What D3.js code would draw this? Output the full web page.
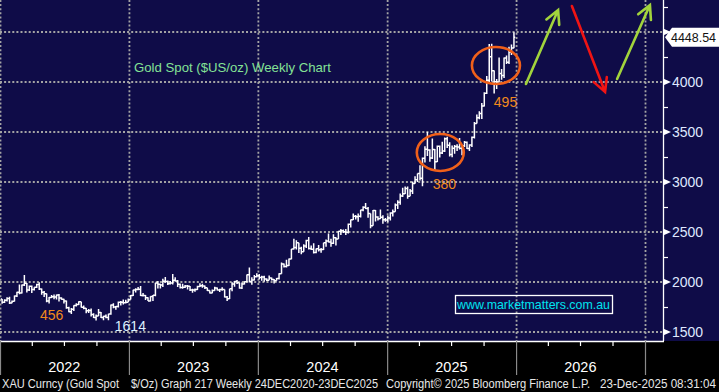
<!DOCTYPE html>
<html><head><meta charset="utf-8">
<script src="https://cdn.jsdelivr.net/npm/d3@7"></script>
<style>
html,body{margin:0;padding:0;background:#000;overflow:hidden;}
svg{display:block;}
</style></head>
<body><svg id="c" width="719" height="392"></svg>
<script>
// ---------- DATA ----------
const firstWeekEnd = "2022-01-07";   // weekly bars, Friday week-ends
const firstOpen = 1829;
const closes = [
  // 2022
  1797,1817,1835,1791,1808,1859,1898,1889,1970,1988,1921,1958,1925,1947,1975,1931,1897,1883,1811,1846,1853,1851,1871,1840,1827,1811,
  1742,1703,1727,1766,1775,1802,1747,1737,1712,1716,1675,1644,1661,1695,1644,1657,1645,1681,1771,1751,1755,1797,1797,1793,1798,1824,
  // 2023
  1865,1920,1926,1928,1865,1865,1842,1811,1856,1868,1989,1978,1969,2008,2004,1983,1990,2017,2011,1977,1946,1948,1961,1958,1921,1919,
  1925,1955,1962,1959,1943,1914,1889,1915,1940,1919,1924,1925,1849,1833,1932,1981,2006,1993,1940,1981,2002,2072,2004,2019,2053,2063,
  // 2024
  2045,2049,2029,2018,2039,2024,2013,2035,2083,2179,2155,2165,2230,2329,2344,2392,2338,2302,2360,2415,2334,2327,2294,2333,2322,2326,
  2392,2411,2400,2387,2443,2431,2507,2512,2503,2497,2577,2622,2658,2653,2657,2721,2747,2736,2685,2563,2716,2650,2633,2648,2622,2621,
  // 2025
  2640,2690,2703,2771,2798,2861,2883,2936,2858,2910,2984,3023,3084,3037,3237,3327,3319,3240,3325,3202,3357,3290,3310,3432,3368,3274,
  3337,3355,3350,3337,3363,3398,3336,3371,3448,3586,3643,3685,3760,3887,4018,4252,4112,4002,4001,4085,4065,4239,4198,4300,4339,4448.54
];
const highs = [
  // 2022
  1831,1828,1848,1853,1815,1865,1902,1974,1974,2070,1990,1966,1966,1948,1982,1998,1936,1910,1885,1849,1870,1874,1876,1879,1847,1832,
  1814,1752,1739,1767,1788,1807,1802,1765,1740,1729,1735,1688,1675,1730,1700,1662,1675,1682,1774,1787,1760,1804,1810,1824,1823,1834,
  // 2023
  1870,1923,1937,1949,1960,1890,1870,1848,1858,1870,1993,2010,1982,2032,2049,2015,2009,2081,2048,2019,1985,1983,1971,1971,1959,1933,
  1935,1963,1987,1982,1965,1935,1916,1925,1953,1945,1932,1947,1925,1860,1933,1997,2009,2020,1993,1994,2008,2075,2146,2047,2070,2088,
  // 2024
  2079,2062,2062,2037,2065,2044,2030,2041,2088,2195,2186,2223,2236,2330,2432,2417,2392,2353,2378,2422,2450,2364,2388,2336,2369,2340,
  2393,2424,2484,2432,2477,2448,2509,2531,2525,2529,2586,2626,2686,2670,2685,2722,2758,2790,2750,2686,2721,2721,2657,2726,2667,2639,
  // 2025
  2665,2697,2725,2786,2817,2886,2942,2955,2956,2930,3004,3057,3086,3167,3245,3358,3500,3328,3435,3330,3366,3365,3403,3446,3452,3398,
  3365,3369,3377,3439,3363,3409,3404,3378,3454,3600,3674,3707,3791,3897,4059,4380,4382,4115,4030,4245,4130,4245,4264,4353,4375,4497
];
const lows = [
  // 2022
  1782,1790,1805,1780,1788,1806,1850,1878,1885,1960,1895,1910,1890,1915,1940,1920,1872,1850,1798,1786,1840,1828,1825,1805,1822,1784,
  1732,1697,1681,1711,1754,1771,1745,1727,1688,1691,1654,1639,1615,1660,1640,1618,1637,1617,1672,1737,1722,1745,1765,1775,1784,1797,
  // 2023
  1824,1860,1896,1917,1861,1855,1819,1809,1805,1809,1858,1935,1934,1949,1993,1969,1975,1975,2006,1951,1936,1932,1940,1925,1910,1893,
  1902,1920,1951,1942,1929,1911,1885,1888,1912,1915,1901,1913,1846,1810,1830,1908,1953,1980,1932,1931,1976,1998,1995,1973,2016,2045,
  // 2024
  2024,2013,2002,2010,2018,2015,1984,2012,2024,2083,2146,2146,2160,2228,2324,2325,2291,2277,2304,2340,2326,2320,2286,2287,2304,2293,
  2319,2353,2394,2353,2381,2364,2430,2470,2490,2471,2485,2546,2620,2625,2603,2645,2708,2730,2643,2537,2564,2605,2614,2630,2583,2602,
  // 2025
  2597,2615,2656,2702,2730,2772,2850,2880,2832,2857,2880,2982,3000,3015,2957,3194,3260,3202,3230,3121,3200,3245,3280,3299,3340,3255,
  3247,3283,3310,3324,3268,3350,3331,3311,3351,3436,3584,3627,3630,3755,3881,4000,4004,3886,3930,3996,4022,4040,4180,4180,4271,4338
];
const yTicks = [1500, 2000, 2500, 3000, 3500, 4000, 4500];
const yTickLabels = ["1500", "2000", "2500", "3000", "3500", "4000", ""]; // 4500 hidden under last-price tag
const yMinorTicks = [1750, 2250, 2750, 3250, 3750, 4250, 4750];
const yearLabels = ["2022", "2023", "2024", "2025", "2026"];
const yearBounds = ["2022-01-01","2023-01-01","2024-01-01","2025-01-01","2026-01-01","2027-01-01"];
const lastPriceLabel = "4448.54";
const titleText = "Gold Spot ($US/oz) Weekly Chart";
const siteText = "www.marketmatters.com.au";
// annotations (data coordinates)
const ellipses = [ // [leftDate, rightDate, topPrice, bottomPrice]
  ["2025-03-26", "2025-08-06", 3480, 3110],
  ["2025-08-29", "2026-01-12", 4350, 3980]
];
const arrows = [ // [fromDate, fromPrice, toDate, toPrice, color]
  ["2026-01-29", 3980, "2026-04-30", 4720, "#a2d43c"],
  ["2026-06-08", 4760, "2026-09-10", 3900, "#f01414"],
  ["2026-10-14", 4030, "2027-01-15", 4770, "#a2d43c"]
];
const notes = [ // [text, date, price, color]
  ["456", "2022-04-24", 1620, "#f28a1c"],
  ["1614", "2022-11-22", 1510, "#dcefff"],
  ["380", "2025-05-10", 2930, "#f28a1c"],
  ["495", "2025-10-30", 3750, "#f28a1c"]
];
const footer = [ // [text, x0, x1]
  ["XAU Curncy (Gold Spot", 2, 119],
  ["$/Oz) Graph 217 Weekly 24DEC2020-23DEC2025", 131, 378],
  ["Copyright\u00A9 2025 Bloomberg Finance L.P.", 386, 590],
  ["23-Dec-2025 08:31:04", 600, 716]
];

// ---------- LAYOUT ----------
const W = 719, H = 392;
const axisX = 663, axisY = 341;
const NAVY = "#0f0c48";
const parse = d3.utcParse("%Y-%m-%d");
const x = d3.scaleUtc().domain([parse("2022-01-01"), parse("2027-01-01")]).range([0, 645]);
const y = d3.scaleLinear().domain([1500, 4500]).range([332, 32]);

const svg = d3.select("#c");
svg.append("rect").attr("width", W).attr("height", H).attr("fill", "#000");
svg.append("rect").attr("width", W).attr("height", axisY).attr("fill", NAVY);

// grid
const grid = svg.append("g").attr("stroke", "#a4a4a4").attr("stroke-width", 1.8).attr("stroke-dasharray", "2,2.1");
grid.selectAll("line.h").data(yTicks).join("line")
  .attr("x1", 0).attr("x2", axisX).attr("y1", d => y(d)).attr("y2", d => y(d));
grid.selectAll("line.v").data(yearBounds).join("line")
  .attr("x1", d => x(parse(d)) + 0.5).attr("x2", d => x(parse(d)) + 0.5).attr("y1", 0).attr("y2", axisY);

// OHLC weekly bars
const t0 = parse(firstWeekEnd);
const bars = closes.map((c, i) => ({
  date: d3.utcDay.offset(t0, 7 * i),
  open: i === 0 ? firstOpen : closes[i - 1],
  close: c, high: highs[i], low: lows[i]
}));
svg.append("path")
  .attr("fill", "none").attr("stroke", "#fff").attr("stroke-width", 1.5)
  .attr("d", bars.map(b => {
    const bx = x(b.date);
    const hi = Math.max(b.high, b.open, b.close), lo = Math.min(b.low, b.open, b.close);
    return `M${bx},${y(hi)}V${y(lo)}M${bx - 1.3},${y(b.open)}H${bx}M${bx},${y(b.close)}H${bx + 1.3}`;
  }).join(""));

// annotations
svg.append("g").selectAll("ellipse").data(ellipses).join("ellipse")
  .attr("cx", d => (x(parse(d[0])) + x(parse(d[1]))) / 2)
  .attr("cy", d => (y(d[2]) + y(d[3])) / 2)
  .attr("rx", d => (x(parse(d[1])) - x(parse(d[0]))) / 2)
  .attr("ry", d => (y(d[3]) - y(d[2])) / 2)
  .attr("fill", "none").attr("stroke", "#f0601a").attr("stroke-width", 2.6);

const ag = svg.append("g").attr("fill", "none").attr("stroke-width", 2.6).attr("stroke-linecap", "round");
arrows.forEach(a => {
  const x1 = x(parse(a[0])), y1 = y(a[1]), x2 = x(parse(a[2])), y2 = y(a[3]);
  const ang = Math.atan2(y2 - y1, x2 - x1), L = 15, s = Math.PI / 6.5;
  const p1 = [x2 - L * Math.cos(ang - s), y2 - L * Math.sin(ang - s)];
  const p2 = [x2 - L * Math.cos(ang + s), y2 - L * Math.sin(ang + s)];
  ag.append("path").attr("stroke", a[4])
    .attr("d", `M${x1},${y1}L${x2},${y2}M${p1[0]},${p1[1]}L${x2},${y2}L${p2[0]},${p2[1]}`);
});

svg.append("g").selectAll("text").data(notes).join("text")
  .attr("x", d => x(parse(d[1]))).attr("y", d => y(d[2]))
  .attr("fill", d => d[3]).attr("font-family", "Liberation Sans, Arial, sans-serif").attr("font-size", 14)
  .text(d => d[0]);

svg.append("text").attr("x", 134).attr("y", 72).attr("fill", "#84e296")
  .attr("font-family", "Liberation Sans, Arial, sans-serif").attr("font-size", 13.2).text(titleText);

svg.append("rect").attr("x", 455.5).attr("y", 295.5).attr("width", 157).attr("height", 18)
  .attr("fill", "none").attr("stroke", "#fff").attr("stroke-width", 1.3);
svg.append("text").attr("x", 457).attr("y", 309).attr("fill", "#00e4ef")
  .attr("font-family", "Liberation Sans, Arial, sans-serif").attr("font-size", 13)
  .attr("textLength", 153).attr("lengthAdjust", "spacingAndGlyphs").text(siteText);

// right axis
const ra = svg.append("g").attr("transform", `translate(${axisX},0)`)
  .call(d3.axisRight(y).tickValues(yTicks).tickSize(0).tickPadding(9)
    .tickFormat((d, i) => yTickLabels[i]));
ra.select(".domain").remove();
ra.selectAll("text").attr("fill", "#dfe8ff").attr("font-family", "Liberation Sans, Arial, sans-serif").attr("font-size", 14);
svg.append("line").attr("x1", axisX + 0.5).attr("x2", axisX + 0.5).attr("y1", 0).attr("y2", axisY)
  .attr("stroke", "#fff").attr("stroke-width", 1.3);
svg.append("g").selectAll("path").data(yTicks).join("path")
  .attr("fill", "#fff").attr("d", d => `M${axisX},${y(d) - 3.5}L${axisX + 8},${y(d)}L${axisX},${y(d) + 3.5}Z`);
svg.append("g").selectAll("line").data(yMinorTicks).join("line")
  .attr("x1", axisX).attr("x2", axisX + 5).attr("y1", d => y(d) + 0.5).attr("y2", d => y(d) + 0.5)
  .attr("stroke", "#fff").attr("stroke-width", 1.2);

// last price tag
const ly = y(closes[closes.length - 1]);
svg.append("path").attr("fill", "#fff")
  .attr("d", `M${axisX + 2},${ly}L${axisX + 9},${ly - 9.5}L${W},${ly - 9.5}L${W},${ly + 9.5}L${axisX + 9},${ly + 9.5}Z`);
svg.append("text").attr("x", 671).attr("y", ly + 5).attr("fill", "#111")
  .attr("font-family", "Liberation Sans, Arial, sans-serif").attr("font-size", 13.5)
  .attr("textLength", 45).attr("lengthAdjust", "spacingAndGlyphs").text(lastPriceLabel);

// bottom axis
svg.append("line").attr("x1", 0).attr("x2", axisX + 1).attr("y1", axisY + 0.5).attr("y2", axisY + 0.5)
  .attr("stroke", "#fff").attr("stroke-width", 1.3);
const quarters = d3.utcMonth.every(3).range(parse("2022-01-01"), parse("2027-01-01")).filter(d => d.getUTCMonth() !== 0);
svg.append("g").selectAll("line").data(quarters).join("line")
  .attr("x1", d => x(d) + 0.5).attr("x2", d => x(d) + 0.5).attr("y1", axisY).attr("y2", axisY + 5)
  .attr("stroke", "#fff").attr("stroke-width", 1.2);
svg.append("g").selectAll("line").data(yearBounds).join("line")
  .attr("x1", d => x(parse(d)) + 0.5).attr("x2", d => x(parse(d)) + 0.5).attr("y1", axisY).attr("y2", 375)
  .attr("stroke", "#8a8a8a").attr("stroke-width", 1.2);
svg.append("g").selectAll("text").data(yearLabels).join("text")
  .attr("x", d => x(parse(d + "-07-02"))).attr("y", 372).attr("text-anchor", "middle")
  .attr("fill", "#fff").attr("font-family", "Liberation Sans, Arial, sans-serif").attr("font-size", 14.5)
  .text(d => d);

// footer
svg.append("g").selectAll("text").data(footer).join("text")
  .attr("x", d => d[1]).attr("y", 388).attr("fill", "#e8e8e8")
  .attr("font-family", "Liberation Sans, Arial, sans-serif").attr("font-size", 12)
  .attr("textLength", d => d[2] - d[1]).attr("lengthAdjust", "spacingAndGlyphs")
  .text(d => d[0]);
</script>
</body></html>
